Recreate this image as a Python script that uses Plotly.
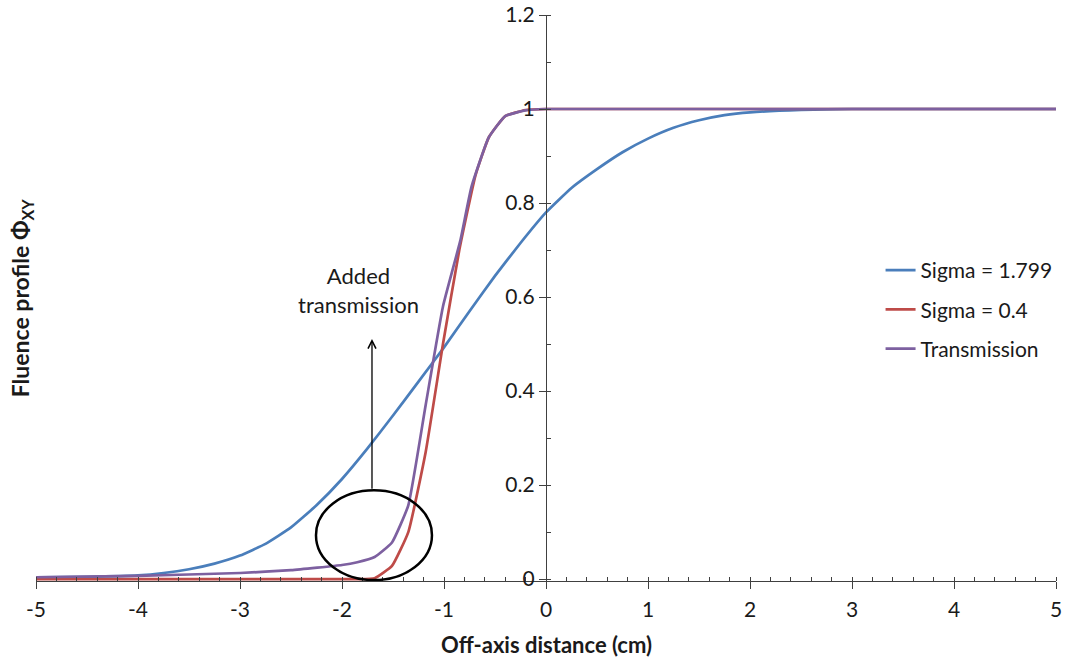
import plotly.graph_objects as go

# ---- data ----
x_blue = [-5, -4.5, -4, -3.75, -3.5, -3.25, -3, -2.75, -2.5, -2.25, -2, -1.75, -1.5, -1.25,
          -1, -0.75, -0.5, -0.25, 0, 0.25, 0.5, 0.75, 1, 1.25, 1.5, 1.75, 2, 2.5, 3, 4, 5]
y_blue = [0.004, 0.005, 0.008, 0.013, 0.021, 0.033, 0.050, 0.075, 0.110, 0.157, 0.213, 0.278,
          0.348, 0.420, 0.493, 0.570, 0.645, 0.715, 0.780, 0.832, 0.872, 0.908, 0.937, 0.960,
          0.976, 0.987, 0.993, 0.998, 1.0, 1.0, 1.0]

x_red = [-5, -1.85, -1.68, -1.51, -1.35, -1.18, -1.01, -0.85, -0.69, -0.56, -0.40, -0.2, 0, 5]
y_red = [0.0, 0.0, 0.002, 0.028, 0.10, 0.27, 0.50, 0.70, 0.86, 0.94, 0.985, 0.998, 1.0, 1.0]

x_trans = [-5, -4, -3, -2.5, -2, -1.85, -1.68, -1.51, -1.35, -1.18, -1.01, -0.84, -0.73,
           -0.56, -0.40, -0.2, 0, 5]
y_trans = [0.004, 0.007, 0.013, 0.019, 0.030, 0.036, 0.047, 0.078, 0.157, 0.37, 0.58, 0.72,
           0.835, 0.94, 0.985, 0.997, 1.0, 1.0]

series_names = ["Sigma = 1.799", "Sigma = 0.4", "Transmission"]
series_colors = ["#4A7EBB", "#BE4B48", "#7D60A0"]

x_tickvals = [-5, -4, -3, -2, -1, 0, 1, 2, 3, 4, 5]
x_ticktext = ["-5", "-4", "-3", "-2", "-1", "0", "1", "2", "3", "4", "5"]
y_tickvals = [0, 0.2, 0.4, 0.6, 0.8, 1, 1.2]
y_ticktext = ["0", "0.2", "0.4", "0.6", "0.8", "1", "1.2"]

FONT = "Lato, 'Open Sans', sans-serif"
TXT = "#1a1a1a"
AX = "#404040"

fig = go.Figure()
for xs, ys, name, col in zip([x_blue, x_red, x_trans], [y_blue, y_red, y_trans],
                             series_names, series_colors):
    fig.add_trace(go.Scatter(x=xs, y=ys, mode="lines", name=name, legendgroup=name,
                             line=dict(color=col, width=2.7, shape="spline", smoothing=0.4)))

fig.update_layout(
    width=1065, height=659,
    margin=dict(l=36, r=9, t=15, b=78, autoexpand=False),
    paper_bgcolor="white", plot_bgcolor="white",
    font=dict(family=FONT, size=21, color=TXT),
    showlegend=True,
    legend=dict(x=0.828, y=0.585, xanchor="left", yanchor="top",
                font=dict(size=21, color=TXT), tracegroupgap=9,
                bgcolor="rgba(0,0,0,0)", itemwidth=30),
    xaxis=dict(range=[-5, 5], domain=[0, 1], showgrid=False, zeroline=False, automargin=False,
               showline=True, linecolor=AX, linewidth=1.3,
               tickvals=x_tickvals, ticktext=x_ticktext, ticks="outside", ticklen=7,
               tickcolor=AX, tickwidth=1.3, tickfont=dict(size=21, color=TXT),
               ticklabelstandoff=3, ticklabeloverflow="allow",
               minor=dict(dtick=0.2, ticks="inside", ticklen=4, tickcolor=AX, tickwidth=1.2)),
    yaxis=dict(range=[-0.004, 1.2], showgrid=False, zeroline=False, automargin=False,
               anchor="free", position=0.5,
               showline=True, linecolor=AX, linewidth=1.3,
               tickvals=y_tickvals, ticktext=y_ticktext, ticks="outside", ticklen=7,
               tickcolor=AX, tickwidth=1.3, tickfont=dict(size=21, color=TXT),
               ticklabeloverflow="allow",
               minor=dict(dtick=0.1, ticks="inside", ticklen=4, tickcolor=AX, tickwidth=1.2)),
)

# x-axis title
fig.add_annotation(text="<b>Off-axis distance (cm)</b>", xref="paper", yref="paper",
                   x=0.5, y=-0.113, xanchor="center", yanchor="middle",
                   showarrow=False, font=dict(size=22, color=TXT))

# y-axis title on the far left
fig.add_annotation(text="<b>Fluence profile Φ<sub>XY</sub></b>", xref="paper", yref="paper",
                   x=-0.0145, y=0.5, xanchor="center", yanchor="middle", textangle=-90,
                   showarrow=False, font=dict(size=23, color=TXT))

# "Added transmission" label
fig.add_annotation(text="Added<br>transmission", x=-1.843, y=0.616, xref="x", yref="y",
                   showarrow=False, font=dict(size=22, color=TXT), align="center")

# arrow
fig.add_annotation(x=-1.706, y=0.511, ax=-1.706, ay=0.189, xref="x", yref="y",
                   axref="x", ayref="y", text="", showarrow=True, arrowhead=5,
                   arrowsize=1.2, arrowwidth=1.3, arrowcolor="black")

# ellipse
fig.add_shape(type="circle", xref="x", yref="y", x0=-2.255, x1=-1.118, y0=-0.002, y1=0.189,
              line=dict(color="black", width=2.5))

fig.write_html("out.html", config={"displayModeBar": False},
               post_script="document.body.style.margin='0px';document.body.style.overflow='hidden';")
